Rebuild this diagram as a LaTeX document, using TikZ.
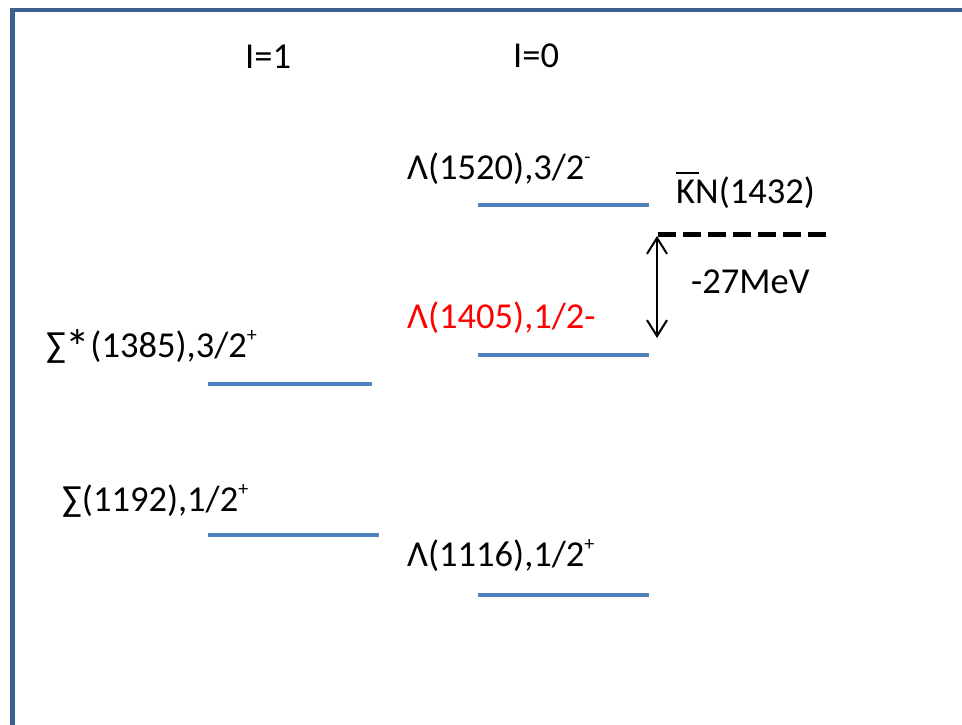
\documentclass[tikz,border=0pt]{standalone}
\usepackage{fontspec}
\setmainfont{Carlito}
\usetikzlibrary{arrows.meta}
\definecolor{framecol}{RGB}{60,96,142}
\definecolor{levelcol}{RGB}{79,129,189}
\newcommand\supsign[1]{\raisebox{0.42em}{\fontsize{20}{20}\selectfont #1}}
\newcommand\kbar{\leavevmode\rlap{\rule[0.8em]{0.62em}{1.6pt}}K}
\newcommand\bigstar{\raisebox{-0.2em}{\scalebox{1.35}{*}}}
\begin{document}
\begin{tikzpicture}[x=1pt,y=-1pt,
  lbl/.style={anchor=base west,inner sep=0pt,font=\fontsize{36.5}{40}\selectfont},
  level/.style={draw=levelcol,line width=4.5pt},
  threshold/.style={line width=5pt,dash pattern=on 18pt off 7pt},
  gap/.style={line width=2pt,{Straight Barb[length=16pt,width=20pt,line width=2pt]}-{Straight Barb[length=16pt,width=20pt,line width=2pt]}}]
\useasboundingbox (0,0) rectangle (962,725);
\clip (0,0) rectangle (962,725);
% frame of the slide
\draw[framecol,line width=4.5pt] (12.5,10) rectangle (1000,800);
% isospin column heads
\node[lbl] (i1) at (245,69) {I=1};
\node[lbl] (i0) at (513,68) {I=0};
% I=0 levels
\node[lbl] (l1520) at (407,179) {Λ(1520),3/2\supsign{-}};
\coordinate (a1) at (478,205); \coordinate (b1) at (649,205);
\draw[level] (a1) -- (b1);
\node[lbl,text=red] (l1405) at (407,328) {Λ(1405),1/2-};
\coordinate (a2) at (478,355); \coordinate (b2) at (649,355);
\draw[level] (a2) -- (b2);
\node[lbl] (l1116) at (407,566) {Λ(1116),1/2\supsign{+}};
\coordinate (a3) at (478,595); \coordinate (b3) at (649,595);
\draw[level] (a3) -- (b3);
% I=1 levels
\node[lbl] (s1385) at (46,357) {∑\bigstar(1385),3/2\supsign{+}};
\coordinate (a4) at (208,384); \coordinate (b4) at (372,384);
\draw[level] (a4) -- (b4);
\node[lbl] (s1192) at (62,511) {∑(1192),1/2\supsign{+}};
\coordinate (a5) at (208,535); \coordinate (b5) at (379,535);
\draw[level] (a5) -- (b5);
% KbarN threshold and binding energy
\node[lbl] (kn) at (676,203) {\kbar N(1432)};
\coordinate (t1) at (658,234); \coordinate (t2) at (830,234);
\draw[threshold] (t1) -- (t2);
\coordinate (g1) at (657,236); \coordinate (g2) at (657,338);
\draw[gap] (g1) -- (g2);
\node[lbl] (be) at (691,293) {-27MeV};
\end{tikzpicture}
\end{document}
